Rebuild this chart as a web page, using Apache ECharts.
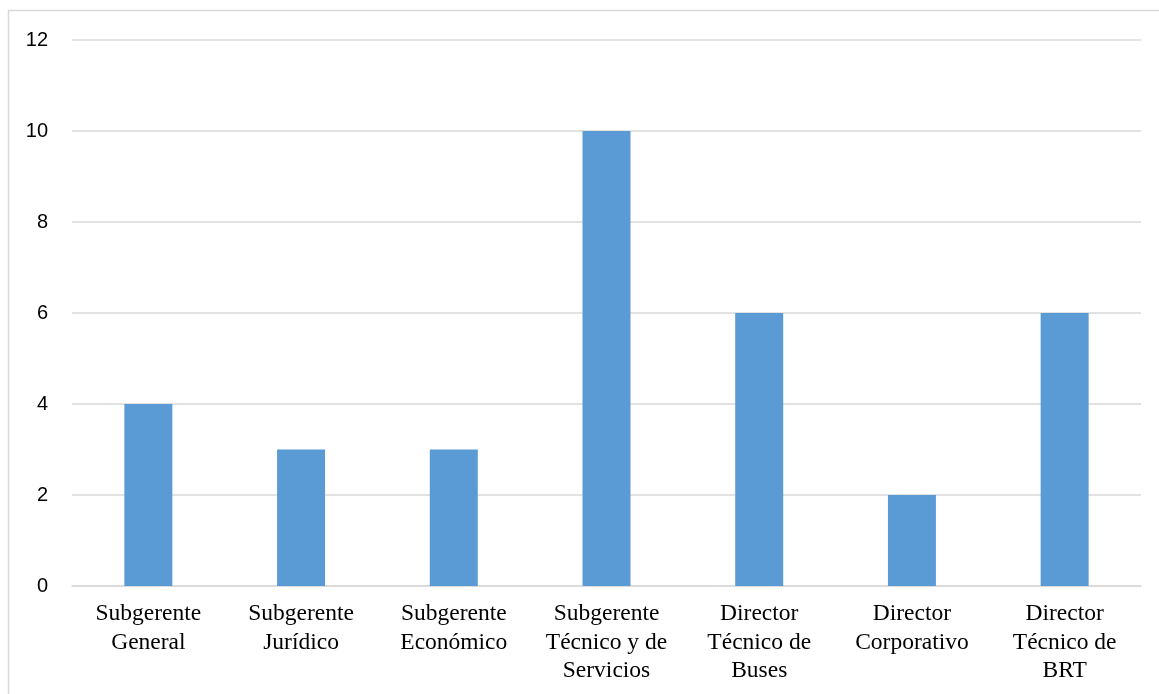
<!DOCTYPE html>
<html>
<head>
<meta charset="utf-8">
<script src="https://cdn.jsdelivr.net/npm/echarts@6/dist/echarts.min.js"></script>
<style>
  html, body { margin: 0; padding: 0; background: #fff; }
  #chart { width: 1159px; height: 694px; }
</style>
</head>
<body>
<div id="chart"></div>
<script>
// Categories (cargos) and counts per cargo
const categories = [
  'Subgerente\nGeneral',
  'Subgerente\nJurídico',
  'Subgerente\nEconómico',
  'Subgerente\nTécnico y de\nServicios',
  'Director\nTécnico de\nBuses',
  'Director\nCorporativo',
  'Director\nTécnico de\nBRT'
];
const values = [4, 3, 3, 10, 6, 2, 6];
const yTicks = { min: 0, max: 12, interval: 2 };

const chart = echarts.init(document.getElementById('chart'), null, { renderer: 'canvas' });
chart.setOption({
  animation: false,
  backgroundColor: '#ffffff',
  graphic: [{
    type: 'rect',
    shape: { x: 8.5, y: 10.5, width: 1300, height: 900 },
    style: { fill: 'none', stroke: '#d9d9d9', lineWidth: 1.5 },
    silent: true
  }],
  grid: { left: 72, right: 18, top: 40, bottom: 108, containLabel: false },
  xAxis: {
    type: 'category',
    data: categories,
    axisLine: { show: true, lineStyle: { color: '#d9d9d9', width: 1.5 } },
    axisTick: { show: false },
    axisLabel: {
      interval: 0,
      margin: 14,
      fontFamily: 'Liberation Serif, serif',
      fontSize: 23.5,
      lineHeight: 28.5,
      color: '#000000',
      verticalAlign: 'top'
    }
  },
  yAxis: {
    type: 'value',
    min: yTicks.min,
    max: yTicks.max,
    interval: yTicks.interval,
    axisLine: { show: false },
    axisTick: { show: false },
    splitLine: { lineStyle: { color: '#d9d9d9', width: 1.5 } },
    axisLabel: {
      margin: 24,
      fontFamily: 'Liberation Sans, sans-serif',
      fontSize: 20,
      color: '#000000'
    }
  },
  series: [{
    type: 'bar',
    data: values,
    barWidth: 48,
    itemStyle: { color: '#5b9bd5' }
  }]
});
</script>
</body>
</html>
